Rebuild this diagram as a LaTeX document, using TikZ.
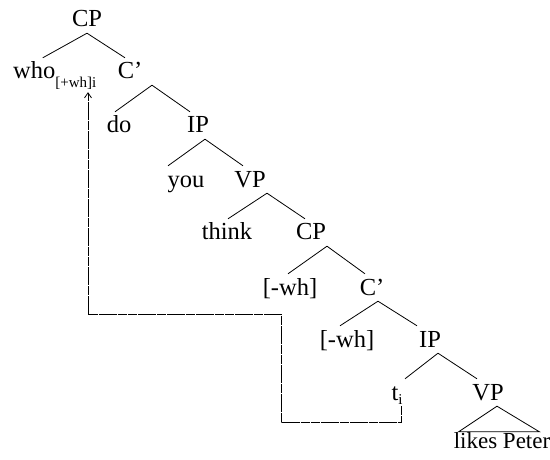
\documentclass[tikz,border=0pt]{standalone}
\usepackage{fontspec}
\setmainfont{Liberation Serif}
\usetikzlibrary{arrows.meta}

\begin{document}
\begin{tikzpicture}[
  x=1pt, y=-1pt,
  cat/.style={anchor=base, inner xsep=1pt, inner ysep=1pt, text height=20pt, text depth=5pt, font=\fontsize{24.5}{24.5}\selectfont},
  branch/.style={line width=0.8pt},
  move/.style={line width=0.8pt, dash pattern=on 9pt off 0.7pt, -{Straight Barb[length=5pt,width=7pt]}}
]
\useasboundingbox (0,0) rectangle (550,460);

% categories, top to bottom
\node[cat] (cpTop) at (87,27) {CP};
\node[cat, anchor=base west] (who) at (12,79) {who\raisebox{-9pt}{\fontsize{15}{15}\selectfont[+wh]i}};
\node[cat] (cbarTop) at (130,79) {C’};
\node[cat] (do) at (119,133) {do};
\node[cat] (ipTop) at (198,133) {IP};
\node[cat] (you) at (186,187) {you};
\node[cat] (vpTop) at (250,187) {VP};
\node[cat] (think) at (227,240) {think};
\node[cat] (cpLow) at (311,240) {CP};
\node[cat] (whA) at (290,295) {[-wh]};
\node[cat] (cbarLow) at (372,295) {C’};
\node[cat] (whB) at (347,347) {[-wh]};
\node[cat] (ipLow) at (430,347) {IP};
\node[cat] (trace) at (397,400) {t\raisebox{-4pt}{\fontsize{15}{15}\selectfont i}};
\node[cat] (vpLow) at (488,400) {VP};
\node[cat, font=\fontsize{23}{23}\selectfont] (likes) at (502,448) {likes Peter};

% branches
\draw[branch] (cpTop.south) -- ([xshift=-12pt]who.north);
\draw[branch] (cpTop.south) -- ([xshift=-5pt]cbarTop.north);
\draw[branch] ([xshift=22pt]cbarTop.south) -- ([xshift=-4pt]do.north);
\draw[branch] ([xshift=22pt]cbarTop.south) -- ([xshift=-8pt]ipTop.north);
\draw[branch] ([xshift=7pt]ipTop.south) -- ([xshift=-18pt]you.north);
\draw[branch] ([xshift=7pt]ipTop.south) -- ([xshift=-7pt]vpTop.north);
\draw[branch] ([xshift=17pt]vpTop.south) -- ([xshift=1pt]think.north);
\draw[branch] ([xshift=17pt]vpTop.south) -- ([xshift=-6pt]cpLow.north);
\draw[branch] ([xshift=16pt]cpLow.south) -- ([xshift=-2pt]whA.north);
\draw[branch] ([xshift=16pt]cpLow.south) -- ([xshift=-7pt]cbarLow.north);
\draw[branch] ([xshift=6pt]cbarLow.south) -- ([xshift=-7pt]whB.north);
\draw[branch] ([xshift=6pt]cbarLow.south) -- ([xshift=-13pt]ipLow.north);
\draw[branch] ([xshift=8pt]ipLow.south) -- ([xshift=8pt]trace.north);
\draw[branch] ([xshift=8pt]ipLow.south) -- ([xshift=-11pt]vpLow.north);
\draw[branch] ([xshift=9pt]vpLow.south) -- ([xshift=6pt,yshift=-5pt]likes.north west) -- ([xshift=-12pt,yshift=-5pt]likes.north east) -- cycle;

% movement of the wh-phrase
\coordinate (bendLow) at (281,422);
\coordinate (bendHigh) at (88,314);
\draw[move, shorten >=7pt] ([xshift=4pt]trace.south) |- (bendLow) |- (bendHigh) -- (bendHigh |- who.south);
\end{tikzpicture}
\end{document}
